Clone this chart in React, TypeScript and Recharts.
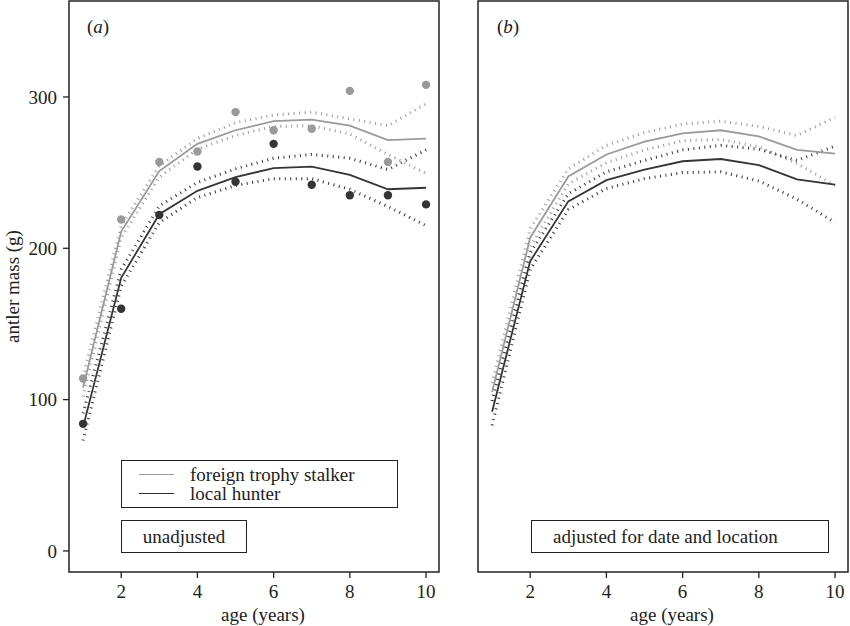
import React from 'react';
import { ComposedChart, Line, Scatter, XAxis, YAxis, ReferenceArea } from 'recharts';

// ---- data ----
const ages = [1, 2, 3, 4, 5, 6, 7, 8, 9, 10];
const xTicks = [2, 4, 6, 8, 10];
const yTicks = [0, 100, 200, 300];

// panel (a): unadjusted
const aForeignObs = [114, 219, 257, 264, 290, 278, 279, 304, 257, 308];
const aLocalObs = [84, 160, 222, 254, 244, 269, 242, 235, 235, 229];
const aForeignFit = [108, 211, 251, 269, 278, 284, 285, 281, 271.5, 272.5];
const aForeignLo = [102, 207, 247, 265.5, 274.5, 280.5, 281, 275.5, 262, 249.5];
const aForeignHi = [115, 215, 254.5, 272.5, 283, 288, 290, 285.5, 281, 295.5];
const aLocalFit = [82, 180.5, 222.5, 238, 247, 253, 254, 248.5, 239, 240];
const aLocalLo = [73, 175, 217, 233.5, 241.5, 246, 246, 239, 227.6, 215];
const aLocalHi = [91, 186, 228, 243.5, 252.5, 259.5, 262, 259.5, 252, 265];

// panel (b): adjusted for date and location
const bForeignFit = [105, 207, 247.5, 262, 270.5, 276, 278, 274, 265, 262.5];
const bForeignLo = [99, 201, 242.5, 256.5, 265, 271, 272, 267, 256, 241.5];
const bForeignHi = [111, 213, 252.5, 268, 276.5, 282, 284, 280.5, 274.5, 286.5];
const bLocalFit = [92, 191.5, 231, 245, 252, 257.5, 259, 255, 245.5, 242];
const bLocalLo = [83, 186, 225.5, 239.5, 246, 250, 250.5, 244.5, 232.5, 217];
const bLocalHi = [99, 197, 236, 250.5, 258, 265, 268, 265.5, 258, 267.5];

const X_DOMAIN: [number, number] = [0.63, 10.34];
const Y_DOMAIN: [number, number] = [-13.9, 363.4];

const GREY = '#9a9a9a';
const DARK = '#353535';
const INK = '#222';
const FONT = '"Liberation Serif", "Times New Roman", serif';

type Row = Record<string, number | null>;

function buildRows(
  fFit: number[], fLo: number[], fHi: number[],
  lFit: number[], lLo: number[], lHi: number[],
  fObs?: number[], lObs?: number[]
): Row[] {
  return ages.map((age, i) => ({
    age,
    fFit: fFit[i], fLo: fLo[i], fHi: fHi[i],
    lFit: lFit[i], lLo: lLo[i], lHi: lHi[i],
    fObs: fObs ? fObs[i] : null,
    lObs: lObs ? lObs[i] : null,
  }));
}

const dataA = buildRows(aForeignFit, aForeignLo, aForeignHi, aLocalFit, aLocalLo, aLocalHi, aForeignObs, aLocalObs);
const dataB = buildRows(bForeignFit, bForeignLo, bForeignHi, bLocalFit, bLocalLo, bLocalHi);

const tickStyle = { fontSize: 19, fill: INK, fontFamily: FONT };

const dot = (color: string) => (p: any) =>
  p.cx == null || p.cy == null ? <g /> : <circle cx={p.cx} cy={p.cy} r={4.2} fill={color} />;

const YTitle = (props: any) => {
  const vb = props.viewBox || { x: 0, y: 0, width: 0, height: 0 };
  const x = vb.x + 19;
  const y = vb.y + vb.height / 2;
  return (
    <text x={x} y={y} transform={`rotate(-90, ${x}, ${y})`} textAnchor="middle"
      fontSize={19} fill={INK} fontFamily={FONT}>antler mass (g)</text>
  );
};

function Panel({ data, width, yWidth, right, showYLabels, hasObs }:
  { data: Row[]; width: number; yWidth: number; right: number; showYLabels: boolean; hasObs: boolean }) {
  return (
    <ComposedChart width={width} height={626} data={data}
      margin={{ top: 1, right, bottom: 0, left: 0 }}>
      <XAxis type="number" dataKey="age" domain={X_DOMAIN} ticks={xTicks} allowDataOverflow
        axisLine={false} tickLine={{ stroke: INK, strokeWidth: 1.3 }} tickSize={6} tickMargin={7}
        height={54} tick={tickStyle}
        label={{ value: 'age (years)', position: 'insideBottom', offset: 5, dx: 9, fontSize: 19, fill: INK, fontFamily: FONT }} />
      <YAxis type="number" domain={Y_DOMAIN} ticks={yTicks} allowDataOverflow width={yWidth}
        axisLine={false} tickLine={{ stroke: INK, strokeWidth: 1.3 }} tickSize={6} tickMargin={6}
        tick={showYLabels ? tickStyle : false}
        label={showYLabels ? <YTitle /> : undefined} />
      <ReferenceArea x1={X_DOMAIN[0]} x2={X_DOMAIN[1]} y1={Y_DOMAIN[0]} y2={Y_DOMAIN[1]}
        stroke={INK} strokeWidth={1.5} fill="none" fillOpacity={0} ifOverflow="visible" />
      <Line type="linear" dataKey="fHi" stroke={GREY} strokeWidth={3} strokeDasharray="1 4.5" dot={false} isAnimationActive={false} />
      <Line type="linear" dataKey="fLo" stroke={GREY} strokeWidth={3} strokeDasharray="1 4.5" dot={false} isAnimationActive={false} />
      <Line type="linear" dataKey="lHi" stroke={DARK} strokeWidth={3} strokeDasharray="1 4.5" dot={false} isAnimationActive={false} />
      <Line type="linear" dataKey="lLo" stroke={DARK} strokeWidth={3} strokeDasharray="1 4.5" dot={false} isAnimationActive={false} />
      <Line type="linear" dataKey="fFit" stroke={GREY} strokeWidth={1.8} dot={false} isAnimationActive={false} />
      <Line type="linear" dataKey="lFit" stroke={DARK} strokeWidth={1.8} dot={false} isAnimationActive={false} />
      {hasObs && <Scatter dataKey="fObs" fill={GREY} shape={dot(GREY)} isAnimationActive={false} />}
      {hasObs && <Scatter dataKey="lObs" fill={DARK} shape={dot(DARK)} isAnimationActive={false} />}
    </ComposedChart>
  );
}

const txt: React.CSSProperties = { position: 'absolute', fontFamily: FONT, fontSize: 19, color: INK, lineHeight: '19px', whiteSpace: 'nowrap' };

export default function App() {
  return (
    <div style={{ position: 'absolute', left: 0, top: 0, width: 850, height: 626, background: '#fff', fontFamily: FONT, overflow: 'hidden' }}>
      <div style={{ position: 'absolute', left: 0, top: 0 }}>
        <Panel data={dataA} width={445} yWidth={69} right={6} showYLabels hasObs />
      </div>
      <div style={{ position: 'absolute', left: 445, top: 0 }}>
        <Panel data={dataB} width={405} yWidth={33} right={2} showYLabels={false} hasObs={false} />
      </div>

      {/* panel labels */}
      <div style={{ ...txt, left: 87, top: 17 }}>(<i>a</i>)</div>
      <div style={{ ...txt, left: 497, top: 17 }}>(<i>b</i>)</div>

      {/* legend */}
      <div style={{ position: 'absolute', left: 121, top: 460, width: 275, height: 46, border: `1.3px solid ${INK}` }}>
        <div style={{ position: 'absolute', left: 17, top: 13, width: 35, height: 0, borderTop: `1.6px solid ${GREY}` }} />
        <div style={{ position: 'absolute', left: 17, top: 32, width: 35, height: 0, borderTop: `1.6px solid ${DARK}` }} />
        <div style={{ ...txt, left: 68, top: 4 }}>foreign trophy stalker</div>
        <div style={{ ...txt, left: 68, top: 23 }}>local hunter</div>
      </div>

      {/* condition boxes */}
      <div style={{ position: 'absolute', left: 121, top: 520, width: 124, height: 31, border: `1.3px solid ${INK}` }}>
        <div style={{ ...txt, left: 0, width: 124, textAlign: 'center', top: 6 }}>unadjusted</div>
      </div>
      <div style={{ position: 'absolute', left: 531, top: 520, width: 296, height: 31, border: `1.3px solid ${INK}` }}>
        <div style={{ ...txt, left: 21, top: 6 }}>adjusted for date and location</div>
      </div>
    </div>
  );
}
